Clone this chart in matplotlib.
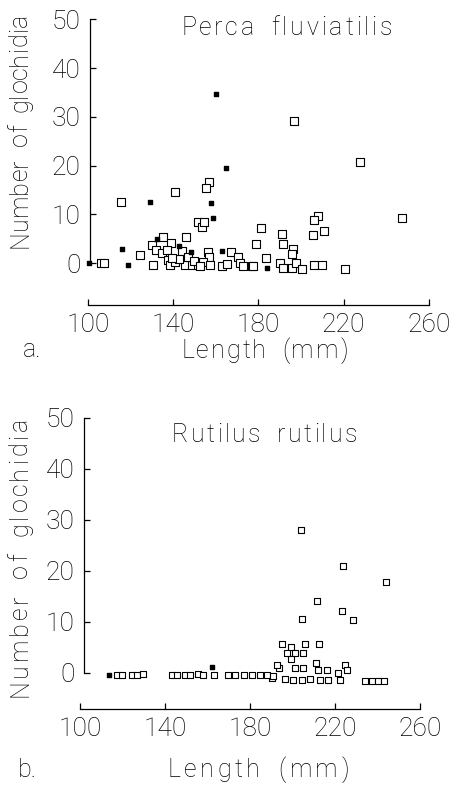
import matplotlib
matplotlib.use('Agg')
import matplotlib.pyplot as plt

plt.rcParams['font.family'] = ['Roboto', 'DejaVu Sans']
plt.rcParams['font.weight'] = 'light'

# a. Perca fluviatilis - open squares
perca_len = [115.5, 141, 156.8, 155.5, 196.7, 227.5, 247.3, 208.1, 206.1, 210.8, 205.8,
             181.1, 191.2, 178.7, 191.7, 196.4, 195.6, 183.6, 151.8, 153.4, 154.6, 135.4,
             145.9, 129.9, 139, 131.8, 124.4, 134.6, 136.9, 144, 156.2, 156.8, 167, 170.6,
             106, 107.5, 130.7, 137.4, 138.5, 140.8, 145.5, 148.6, 151.8, 154.1, 157.2,
             162.8, 165.1, 171.4, 173, 176.9, 177.3, 190.1, 191.7, 195.6, 197.7, 200.6,
             206.2, 209.7, 220.7, 142.5, 147, 150, 152.5, 139.5]
perca_n = [12.6, 14.5, 16.6, 15.3, 29.1, 20.7, 9.3, 9.7, 8.8, 6.6, 5.7,
           7.1, 6.0, 3.9, 4.0, 2.8, 1.8, 1.0, 8.4, 7.3, 8.5, 5.4,
           5.4, 3.6, 4.2, 2.7, 1.6, 2.0, 2.6, 2.5, 2.3, 1.3, 2.3, 1.3,
           -0.1, -0.1, -0.4, 0.6, -0.4, 0.2, -0.4, -0.4, -0.4, 0.2, -0.4,
           -0.7, -0.3, 0.1, -0.7, -0.7, -0.7, -0.1, -1.1, -1.1, -0.1, -1.2,
           -0.4, -0.4, -1.2, 0.8, 1.2, 0.4, -0.6, 1.0]
# a. Perca fluviatilis - filled dots
perca_dot_len = [160.2, 165, 129.1, 157.7, 158.5, 115.8, 118.9, 100.5, 184.2, 142.5, 132.2, 148.4, 163]
perca_dot_n = [34.6, 19.4, 12.5, 12.3, 9.2, 2.8, -0.5, -0.1, -1.0, 3.5, 4.9, 2.3, 2.4]

# b. Rutilus rutilus - open squares
rut_len = [203.9, 223.6, 244, 211.4, 223.1, 228.3, 204.3,
           195.2, 199.1, 205.9, 212.6, 197.3, 201.2, 204.8, 199.1,
           193.8, 201.2, 205.1, 211.1, 212.1, 216.1, 224.7, 225.5, 221.6,
           190.2, 196.5, 200.4, 204.3, 208.2, 212.9, 216.9, 222.4,
           234.1, 237.3, 240.4, 243.1,
           117.3, 119.6, 124.5, 126.7, 129.5, 143.1, 145.8, 149.4, 151.8, 155.7,
           158, 163.1, 169.8, 172.9, 177.2, 180.8, 184.7, 187.9, 191, 192.6]
rut_n = [28.0, 21.0, 17.9, 14.2, 12.2, 10.3, 10.5,
         5.7, 5.0, 5.7, 5.6, 4.0, 3.9, 3.9, 2.7,
         0.9, 0.9, 1.0, 1.9, 0.6, 0.6, 1.6, 0.6, 0.0,
         -1.0, -1.2, -1.3, -1.3, -1.2, -1.3, -1.3, -1.3,
         -1.6, -1.6, -1.6, -1.6,
         -0.4, -0.4, -0.4, -0.4, -0.2, -0.4, -0.4, -0.4, -0.4, -0.2,
         -0.4, -0.4, -0.4, -0.4, -0.4, -0.4, -0.4, -0.4, -0.6, 1.6]
# b. Rutilus rutilus - filled dots
rut_dot_len = [113.8, 162]
rut_dot_n = [-0.4, 1.2]

x_ticks = [100, 140, 180, 220, 260]
y_ticks = [0, 10, 20, 30, 40, 50]

W, H = 451, 790
fig = plt.figure(figsize=(W / 100, H / 100), dpi=100)
FS = 18
rend = fig.canvas.get_renderer()


def text_w(s):
    t = fig.text(0, 0, s, fontsize=FS)
    w = t.get_window_extent(rend).width
    t.remove()
    return w


def spaced(s, start, end, base, vertical=False):
    # lay a string out letter by letter over the span start..end (pixels)
    adv = []
    for c in s:
        if c == ' ':
            adv.append(12)
        else:
            adv.append(text_w('x' + c + 'x') - text_w('xx'))
    span = abs(end - start)
    track = (span - sum(adv)) / (len(s) - 1)
    pos = 0
    for c, a in zip(s, adv):
        mid = pos + a / 2
        if c != ' ':
            if vertical:
                fig.text(base / W, 1 - (start - mid) / H, c, fontsize=FS, rotation=90,
                         rotation_mode='anchor', ha='center', va='baseline')
            else:
                fig.text((start + mid) / W, 1 - base / H, c, fontsize=FS,
                         ha='center', va='baseline')
        pos += a + track


def panel(left, right, top, bottom, xlim, ylim, spine_off):
    ax = fig.add_axes([left / W, 1 - bottom / H, (right - left) / W, (bottom - top) / H])
    ax.set_xlim(xlim)
    ax.set_ylim(ylim)
    for s in ['top', 'right']:
        ax.spines[s].set_visible(False)
    ax.spines['left'].set_bounds(0, 50)
    ax.spines['bottom'].set_bounds(100, 260)
    ax.spines['left'].set_position(('axes', spine_off))
    for s in ['left', 'bottom']:
        ax.spines[s].set_linewidth(0.9)
    ax.set_xticks(x_ticks)
    ax.set_yticks(y_ticks)
    ax.tick_params(axis='both', direction='in', length=4, width=0.9, labelsize=FS + 1)
    ax.tick_params(axis='y', pad=7)
    ax.tick_params(axis='x', pad=6)
    return ax


ax1 = panel(88, 433, 15, 305, (100, 262), (-8.62, 50.9), 2 / 345)
ax1.scatter(perca_len, perca_n, marker='s', s=34, facecolors='white',
            edgecolors='black', linewidths=0.8, clip_on=False, zorder=3)
ax1.scatter(perca_dot_len, perca_dot_n, marker='s', s=5, color='black',
            clip_on=False, zorder=4)

ax2 = panel(80, 424, 413, 709, (100, 261.9), (-7.06, 50.98), 4 / 344)
ax2.scatter(rut_len, rut_n, marker='s', s=24, facecolors='white',
            edgecolors='black', linewidths=0.8, clip_on=False, zorder=3)
ax2.scatter(rut_dot_len, rut_dot_n, marker='s', s=5, color='black',
            clip_on=False, zorder=4)

spaced('Perca fluviatilis', 181, 392, 35)
spaced('Rutilus rutilus', 172, 357, 442)
spaced('Length (mm)', 181, 348, 358)
spaced('Length (mm)', 168, 349, 777)
spaced('Number of glochidia', 248, 14, 27, vertical=True)
spaced('Number of glochidia', 697, 418, 27, vertical=True)
fig.text(23 / W, 1 - 357 / H, 'a.', fontsize=FS, ha='left', va='baseline')
fig.text(18 / W, 1 - 777 / H, 'b.', fontsize=FS, ha='left', va='baseline')

fig.savefig('out.png', dpi=100)
